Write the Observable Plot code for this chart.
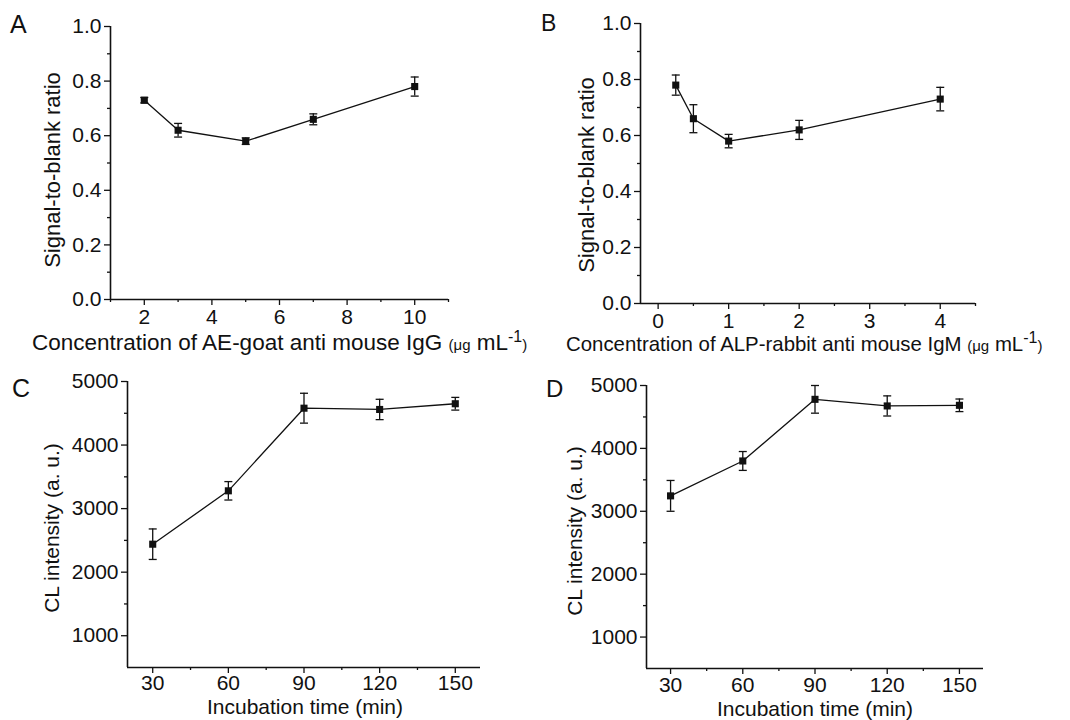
<!DOCTYPE html>
<html>
<head>
<meta charset="utf-8">
<script src="https://cdn.jsdelivr.net/npm/d3@7"></script>
<script src="https://cdn.jsdelivr.net/npm/@observablehq/plot@0.6"></script>
<style>
  html, body { margin: 0; padding: 0; background: #fff; }
  #fig { position: relative; width: 1070px; height: 720px; background: #fff; overflow: hidden;
         font-family: 'Liberation Sans', Arial, Helvetica, sans-serif; color: #111; }
  #fig svg { position: absolute; overflow: visible; }
  .lbl { position: absolute; white-space: nowrap; line-height: 1; color: #111; }
  .ylbl { transform: translate(-50%, -50%) rotate(-90deg); }
  .letter { position: absolute; line-height: 1; color: #111; }
  .u { font-size: 15px; }
  sup { font-size: 16px; vertical-align: 0; position: relative; top: -8px; line-height: 0; }
</style>
</head>
<body>
<div id="fig"></div>
<script>
// ---------------- data ----------------
// Panel A: AE-goat anti mouse IgG concentration (µg/mL) vs signal-to-blank ratio
const concA = [2, 3, 5, 7, 10];
const ratioA = [0.73, 0.62, 0.58, 0.66, 0.78];
const errA = [0.01, 0.025, 0.012, 0.02, 0.035];

// Panel B: ALP-rabbit anti mouse IgM concentration (µg/mL) vs signal-to-blank ratio
const concB = [0.25, 0.5, 1, 2, 4];
const ratioB = [0.78, 0.66, 0.58, 0.62, 0.73];
const errB = [0.036, 0.05, 0.024, 0.034, 0.042];

// Panel C: incubation time (min) vs CL intensity
const timeC = [30, 60, 90, 120, 150];
const intensityC = [2440, 3280, 4580, 4560, 4650];
const errC = [240, 145, 235, 160, 100];

// Panel D: incubation time (min) vs CL intensity
const timeD = [30, 60, 90, 120, 150];
const intensityD = [3245, 3800, 4780, 4675, 4685];
const errD = [245, 150, 220, 160, 100];

// axis ticks
const ticksXA = [2, 4, 6, 8, 10];
const minorXA = [1, 3, 5, 7, 9, 11];
const ticksXB = [0, 1, 2, 3, 4];
const minorXB = [0.5, 1.5, 2.5, 3.5, 4.5];
const ticksRatio = [0.0, 0.2, 0.4, 0.6, 0.8, 1.0];
const minorRatio = [0.1, 0.3, 0.5, 0.7, 0.9];
const ticksTime = [30, 60, 90, 120, 150];
const minorTime = [45, 75, 105, 135];
const ticksCL = [1000, 2000, 3000, 4000, 5000];
const minorCL = [1500, 2500, 3500, 4500];

// ---------------- drawing ----------------
const ink = "#111";
const capSymbol = { draw(ctx) { ctx.moveTo(-4, 0); ctx.lineTo(4, 0); } };

function table(xs, ys, es) {
  return xs.map((x, i) => ({ x, y: ys[i], lo: ys[i] - es[i], hi: ys[i] + es[i] }));
}

function panel(o) {
  const data = table(o.xs, o.ys, o.es);
  return Plot.plot({
    width: o.width, height: o.height,
    marginLeft: o.ml, marginRight: o.mr, marginTop: o.mt, marginBottom: o.mb,
    x: { domain: o.xDomain },
    y: { domain: o.yDomain },
    style: { fontFamily: "'Liberation Sans', Arial, Helvetica, sans-serif", fontSize: "21px", color: ink, background: "transparent", overflow: "visible" },
    marks: [
      Plot.axisX({ ticks: o.xTicks, tickSize: 6, tickPadding: o.xPad, tickFormat: d => String(d), fontSize: 21, label: null, stroke: ink, strokeWidth: 1.3 }),
      Plot.axisX({ ticks: o.xMinor, tickSize: 3, tickPadding: 0, tickFormat: () => "", label: null, stroke: ink, strokeWidth: 1.3 }),
      Plot.axisY({ ticks: o.yTicks, tickSize: 6, tickPadding: 3, tickFormat: o.yFormat, fontSize: 21, label: null, stroke: ink, strokeWidth: 1.3 }),
      Plot.axisY({ ticks: o.yMinor, tickSize: 3, tickPadding: 0, tickFormat: () => "", label: null, stroke: ink, strokeWidth: 1.3 }),
      Plot.ruleY([o.yDomain[0]], { stroke: ink, strokeWidth: 1.6 }),
      Plot.ruleX([o.xDomain[0]], { stroke: ink, strokeWidth: 1.6 }),
      Plot.line(data, { x: "x", y: "y", stroke: ink, strokeWidth: 1.3 }),
      Plot.ruleX(data, { x: "x", y1: "lo", y2: "hi", stroke: ink, strokeWidth: 1.3 }),
      Plot.dot(data, { x: "x", y: "hi", symbol: capSymbol, stroke: ink, strokeWidth: 1.3, fill: "none" }),
      Plot.dot(data, { x: "x", y: "lo", symbol: capSymbol, stroke: ink, strokeWidth: 1.3, fill: "none" }),
      Plot.dot(data, { x: "x", y: "y", symbol: "square", r: 4, fill: ink, stroke: null })
    ]
  });
}

const fig = document.getElementById("fig");
function place(svg, left, top) {
  svg.style.left = left + "px";
  svg.style.top = top + "px";
  fig.appendChild(svg);
}

const fmt1 = d => d.toFixed(1);
const fmt0 = d => String(d);

place(panel({ xs: concA, ys: ratioA, es: errA, xDomain: [1, 11], yDomain: [0, 1],
  xTicks: ticksXA, xMinor: minorXA, yTicks: ticksRatio, yMinor: minorRatio, yFormat: fmt1, xPad: 4,
  width: 470, height: 360, ml: 110, mr: 22, mt: 26, mb: 61 }), 0, 0);

place(panel({ xs: concB, ys: ratioB, es: errB, xDomain: [-0.25, 4.5], yDomain: [0, 1],
  xTicks: ticksXB, xMinor: minorXB, yTicks: ticksRatio, yMinor: minorRatio, yFormat: fmt1, xPad: 4,
  width: 540, height: 360, ml: 110, mr: 95, mt: 23, mb: 57 }), 530, 0);

place(panel({ xs: timeC, ys: intensityC, es: errC, xDomain: [20, 160], yDomain: [500, 5000],
  xTicks: ticksTime, xMinor: minorTime, yTicks: ticksCL, yMinor: minorCL, yFormat: fmt0, xPad: 2,
  width: 530, height: 360, ml: 127, mr: 50, mt: 21, mb: 53 }), 0, 360);

place(panel({ xs: timeD, ys: intensityD, es: errD, xDomain: [20, 160], yDomain: [500, 5000],
  xTicks: ticksTime, xMinor: minorTime, yTicks: ticksCL, yMinor: minorCL, yFormat: fmt0, xPad: 3,
  width: 540, height: 360, ml: 116, mr: 87, mt: 25, mb: 52 }), 530, 360);

// ---------------- text ----------------
function addText(html, cls, style) {
  const d = document.createElement("div");
  d.className = cls;
  d.innerHTML = html;
  Object.assign(d.style, style);
  fig.appendChild(d);
  return d;
}

addText("A", "letter", { left: "10px", top: "12px", fontSize: "25px" });
addText("B", "letter", { left: "541px", top: "12px", fontSize: "23px" });
addText("C", "letter", { left: "12px", top: "376px", fontSize: "25px" });
addText("D", "letter", { left: "546px", top: "377px", fontSize: "24px" });

addText('Concentration of AE-goat anti mouse IgG <span class="u">(μg</span> mL<sup>-1</sup><span class="u">)</span>',
  "lbl", { left: "32px", top: "332px", fontSize: "22.5px" });
addText('Concentration of ALP-rabbit anti mouse IgM <span class="u">(μg</span> mL<sup>-1</sup><span class="u">)</span>',
  "lbl", { left: "566px", top: "334px", fontSize: "20.4px" });
addText("Incubation time (min)", "lbl", { left: "305px", top: "696px", fontSize: "21px", transform: "translateX(-50%)" });
addText("Incubation time (min)", "lbl", { left: "815px", top: "698px", fontSize: "21px", transform: "translateX(-50%)" });

addText("Signal-to-blank ratio", "lbl ylbl", { left: "53px", top: "170px", fontSize: "22px" });
addText("Signal-to-blank ratio", "lbl ylbl", { left: "587px", top: "175px", fontSize: "22px" });
addText("CL intensity (a. u.)", "lbl ylbl", { left: "51px", top: "528px", fontSize: "21px" });
addText("CL intensity (a. u.)", "lbl ylbl", { left: "574px", top: "531px", fontSize: "21px" });
</script>
</body>
</html>
